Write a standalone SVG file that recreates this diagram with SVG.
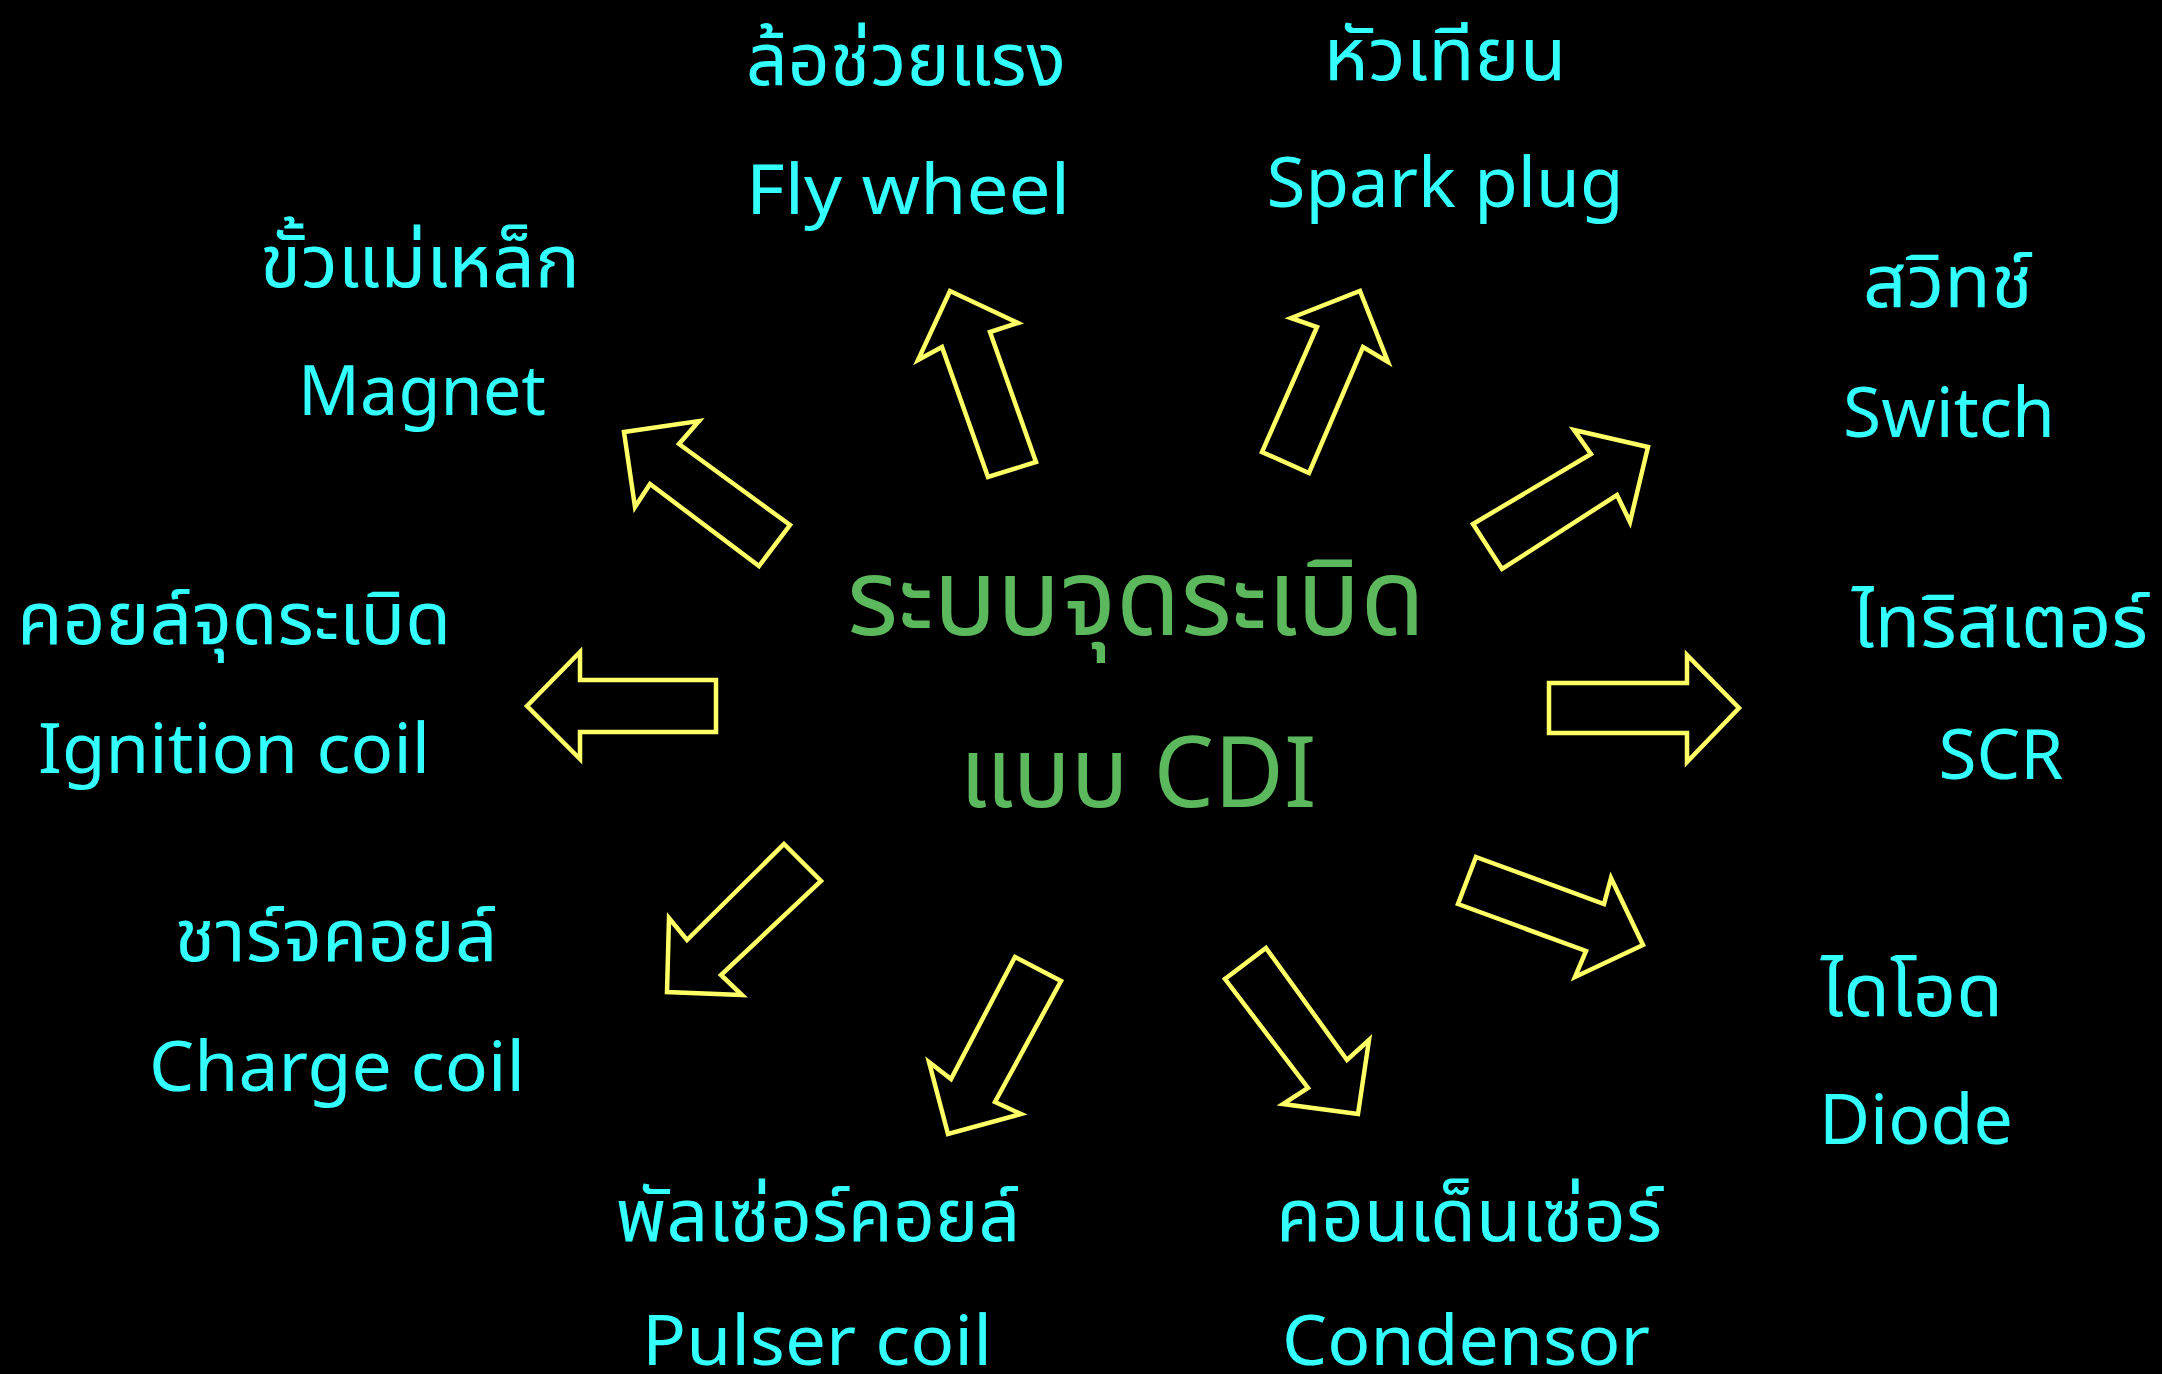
<svg xmlns="http://www.w3.org/2000/svg" width="2162" height="1374" viewBox="0 0 2162 1374">
<style>
.lbl{font-family:"Noto Sans Thai","Noto Sans","DejaVu Sans",sans-serif;fill:#33ffff;font-size:70px;text-anchor:middle}
.th{font-size:74px}
.ctr{font-family:"Noto Sans Thai","Noto Sans","DejaVu Sans",sans-serif;fill:#5cb85c;font-size:108px;text-anchor:middle}
.cdi{font-size:98px}
.arr{fill:none;stroke:#ffff66;stroke-width:4.5;stroke-linejoin:miter}
</style>
<rect width="2162" height="1374" fill="#000"/>
<g id="center">
<text class="ctr" x="1136" y="635" textLength="578" lengthAdjust="spacingAndGlyphs">ระบบจุดระเบิด</text>
<text class="ctr cdi" x="1138" y="807" textLength="357" lengthAdjust="spacingAndGlyphs">แบบ CDI</text>
</g>
<g id="flywheel">
<text class="lbl th" x="906" y="85" textLength="320" lengthAdjust="spacingAndGlyphs">ล้อช่วยแรง</text>
<text class="lbl" x="908" y="214" textLength="324" lengthAdjust="spacingAndGlyphs">Fly wheel</text>
</g>
<g id="sparkplug">
<text class="lbl th" x="1445" y="80" textLength="243" lengthAdjust="spacingAndGlyphs">หัวเทียน</text>
<text class="lbl" x="1445" y="207" textLength="357" lengthAdjust="spacingAndGlyphs">Spark plug</text>
</g>
<g id="magnet">
<text class="lbl th" x="420" y="287" textLength="320" lengthAdjust="spacingAndGlyphs">ขั้วแม่เหล็ก</text>
<text class="lbl" x="422" y="415" textLength="248" lengthAdjust="spacingAndGlyphs">Magnet</text>
</g>
<g id="switch">
<text class="lbl th" x="1948" y="307" textLength="170" lengthAdjust="spacingAndGlyphs">สวิทช์</text>
<text class="lbl" x="1949" y="437" textLength="212" lengthAdjust="spacingAndGlyphs">Switch</text>
</g>
<g id="ignition">
<text class="lbl th" x="234" y="644" textLength="434" lengthAdjust="spacingAndGlyphs">คอยล์จุดระเบิด</text>
<text class="lbl" x="234" y="773" textLength="392" lengthAdjust="spacingAndGlyphs">Ignition coil</text>
</g>
<g id="scr">
<text class="lbl th" x="2000" y="647" textLength="296" lengthAdjust="spacingAndGlyphs">ไทริสเตอร์</text>
<text class="lbl" x="2001" y="779" textLength="125" lengthAdjust="spacingAndGlyphs">SCR</text>
</g>
<g id="charge">
<text class="lbl th" x="336" y="961" textLength="323" lengthAdjust="spacingAndGlyphs">ชาร์จคอยล์</text>
<text class="lbl" x="337" y="1091" textLength="376" lengthAdjust="spacingAndGlyphs">Charge coil</text>
</g>
<g id="diode">
<text class="lbl th" x="1912" y="1016" textLength="182" lengthAdjust="spacingAndGlyphs">ไดโอด</text>
<text class="lbl" x="1916" y="1144" textLength="194" lengthAdjust="spacingAndGlyphs">Diode</text>
</g>
<g id="pulser">
<text class="lbl th" x="818" y="1241" textLength="405" lengthAdjust="spacingAndGlyphs">พัลเซ่อร์คอยล์</text>
<text class="lbl" x="817" y="1365" textLength="350" lengthAdjust="spacingAndGlyphs">Pulser coil</text>
</g>
<g id="condensor">
<text class="lbl th" x="1469" y="1241" textLength="386" lengthAdjust="spacingAndGlyphs">คอนเด็นเซ่อร์</text>
<text class="lbl" x="1466" y="1365" textLength="368" lengthAdjust="spacingAndGlyphs">Condensor</text>
</g>
<g id="connectors">
<polygon class="arr" points="624,432 699,421 679,444 790,525 759,566 650,484 635,507"/>
<polygon class="arr" points="527,706 580,652 580,680 716,680 716,732 580,732 580,759"/>
<polygon class="arr" points="784,844 821,881 721,975 742,995 667,992 669,918 687,940"/>
<polygon class="arr" points="950,291 1018,323 990,332 1036,462 988,477 942,347 918,360"/>
<polygon class="arr" points="1360,291 1388,362 1363,347 1309,473 1262,452 1317,327 1291,318"/>
<polygon class="arr" points="1574,430 1648,447 1630,522 1617,495 1502,569 1473,524 1591,454"/>
<polygon class="arr" points="1549,683 1687,683 1687,655 1739,708 1687,762 1687,733 1549,733"/>
<polygon class="arr" points="1476,857 1604,904 1611,878 1643,945 1575,977 1586,951 1458,904"/>
<polygon class="arr" points="1015,957 1061,981 995,1102 1021,1114 948,1134 929,1062 951,1079"/>
<polygon class="arr" points="1266,948 1347,1060 1369,1040 1358,1114 1283,1104 1308,1088 1225,979"/>
</g>
</svg>
